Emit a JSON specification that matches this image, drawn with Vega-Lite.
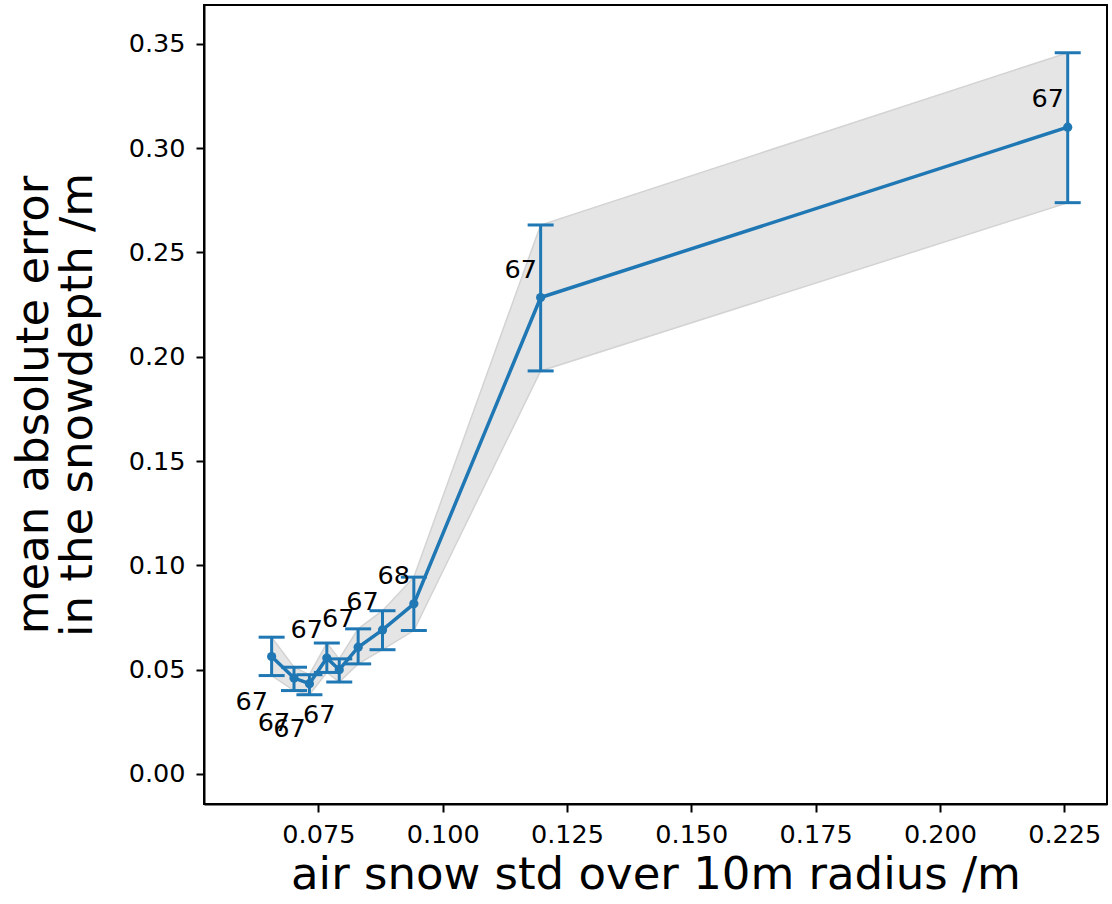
{
  "$schema": "https://vega.github.io/schema/vega-lite/v6.json",
  "autosize": {"type": "none"},
  "padding": {"left": 204, "top": 5, "right": 5, "bottom": 100},
  "width": 903,
  "height": 799,
  "background": "white",
  "config": {
    "font": "DejaVu Sans",
    "view": {"stroke": "black", "strokeWidth": 2},
    "axis": {
      "grid": false,
      "domainColor": "black",
      "domainWidth": 2,
      "tickColor": "black",
      "tickWidth": 2,
      "tickSize": 8,
      "labelFont": "DejaVu Sans",
      "labelFontSize": 25.5,
      "labelColor": "black",
      "titleFont": "DejaVu Sans",
      "titleFontSize": 45,
      "titleFontWeight": "normal",
      "titleColor": "black"
    }
  },
  "data": {
    "values": [
      {"std": 0.0656, "mae": 0.0562, "lo": 0.0471, "hi": 0.0655, "n": "67", "side": "below"},
      {"std": 0.0701, "mae": 0.0459, "lo": 0.0399, "hi": 0.0511, "n": "67", "side": "below"},
      {"std": 0.0732, "mae": 0.0432, "lo": 0.0379, "hi": 0.0475, "n": "67", "side": "below"},
      {"std": 0.0767, "mae": 0.0555, "lo": 0.0486, "hi": 0.0627, "n": "67", "side": "above"},
      {"std": 0.0792, "mae": 0.0499, "lo": 0.0440, "hi": 0.0551, "n": "67", "side": "below"},
      {"std": 0.0830, "mae": 0.0607, "lo": 0.0527, "hi": 0.0695, "n": "67", "side": "above"},
      {"std": 0.0879, "mae": 0.0690, "lo": 0.0595, "hi": 0.0782, "n": "67", "side": "above"},
      {"std": 0.0942, "mae": 0.0815, "lo": 0.0687, "hi": 0.0943, "n": "68", "side": "above"},
      {"std": 0.1197, "mae": 0.2284, "lo": 0.1932, "hi": 0.2632, "n": "67", "side": "above"},
      {"std": 0.2257, "mae": 0.3101, "lo": 0.2739, "hi": 0.3458, "n": "67", "side": "above"}
    ]
  },
  "encoding": {
    "x": {
      "field": "std",
      "type": "quantitative",
      "scale": {"domain": [0.0520, 0.2336], "nice": false, "zero": false},
      "axis": {
        "values": [0.075, 0.1, 0.125, 0.15, 0.175, 0.2, 0.225],
        "format": ".3f",
        "labelPadding": 10,
        "title": "air snow std over 10m radius /m",
        "titlePadding": 5
      }
    }
  },
  "layer": [
    {
      "mark": {"type": "area", "color": "#e5e5e5", "opacity": 1, "stroke": "#d3d3d3", "strokeWidth": 1.5},
      "encoding": {
        "y": {
          "field": "lo",
          "type": "quantitative",
          "scale": {"domain": [-0.0145, 0.3687], "nice": false, "zero": false},
          "axis": {
            "values": [0, 0.05, 0.1, 0.15, 0.2, 0.25, 0.3, 0.35],
            "format": ".2f",
            "labelPadding": 11,
            "title": ["mean absolute error", "in the snowdepth /m"],
            "titleLineHeight": 44,
            "titlePadding": 28
          }
        },
        "y2": {"field": "hi"}
      }
    },
    {
      "mark": {"type": "rule", "color": "#1f77b4", "strokeWidth": 3},
      "encoding": {
        "y": {"field": "lo", "type": "quantitative"},
        "y2": {"field": "hi"}
      }
    },
    {
      "mark": {"type": "tick", "orient": "horizontal", "color": "#1f77b4", "size": 26, "thickness": 3, "opacity": 1},
      "encoding": {"y": {"field": "lo", "type": "quantitative"}}
    },
    {
      "mark": {"type": "tick", "orient": "horizontal", "color": "#1f77b4", "size": 26, "thickness": 3, "opacity": 1},
      "encoding": {"y": {"field": "hi", "type": "quantitative"}}
    },
    {
      "mark": {"type": "line", "color": "#1f77b4", "strokeWidth": 3.5},
      "encoding": {"y": {"field": "mae", "type": "quantitative"}}
    },
    {
      "mark": {"type": "circle", "color": "#1f77b4", "size": 85, "opacity": 1},
      "encoding": {"y": {"field": "mae", "type": "quantitative"}}
    },
    {
      "transform": [{"filter": "datum.side === 'above'"}],
      "mark": {"type": "text", "fontSize": 25.5, "color": "black", "align": "center", "baseline": "middle", "dx": -20, "dy": -28},
      "encoding": {
        "y": {"field": "mae", "type": "quantitative"},
        "text": {"field": "n"}
      }
    },
    {
      "transform": [{"filter": "datum.side === 'below'"}],
      "mark": {"type": "text", "fontSize": 25.5, "color": "black", "align": "center", "baseline": "middle", "dx": -20, "dy": 45},
      "encoding": {
        "y": {"field": "mae", "type": "quantitative"},
        "text": {"field": "n"}
      }
    }
  ]
}
